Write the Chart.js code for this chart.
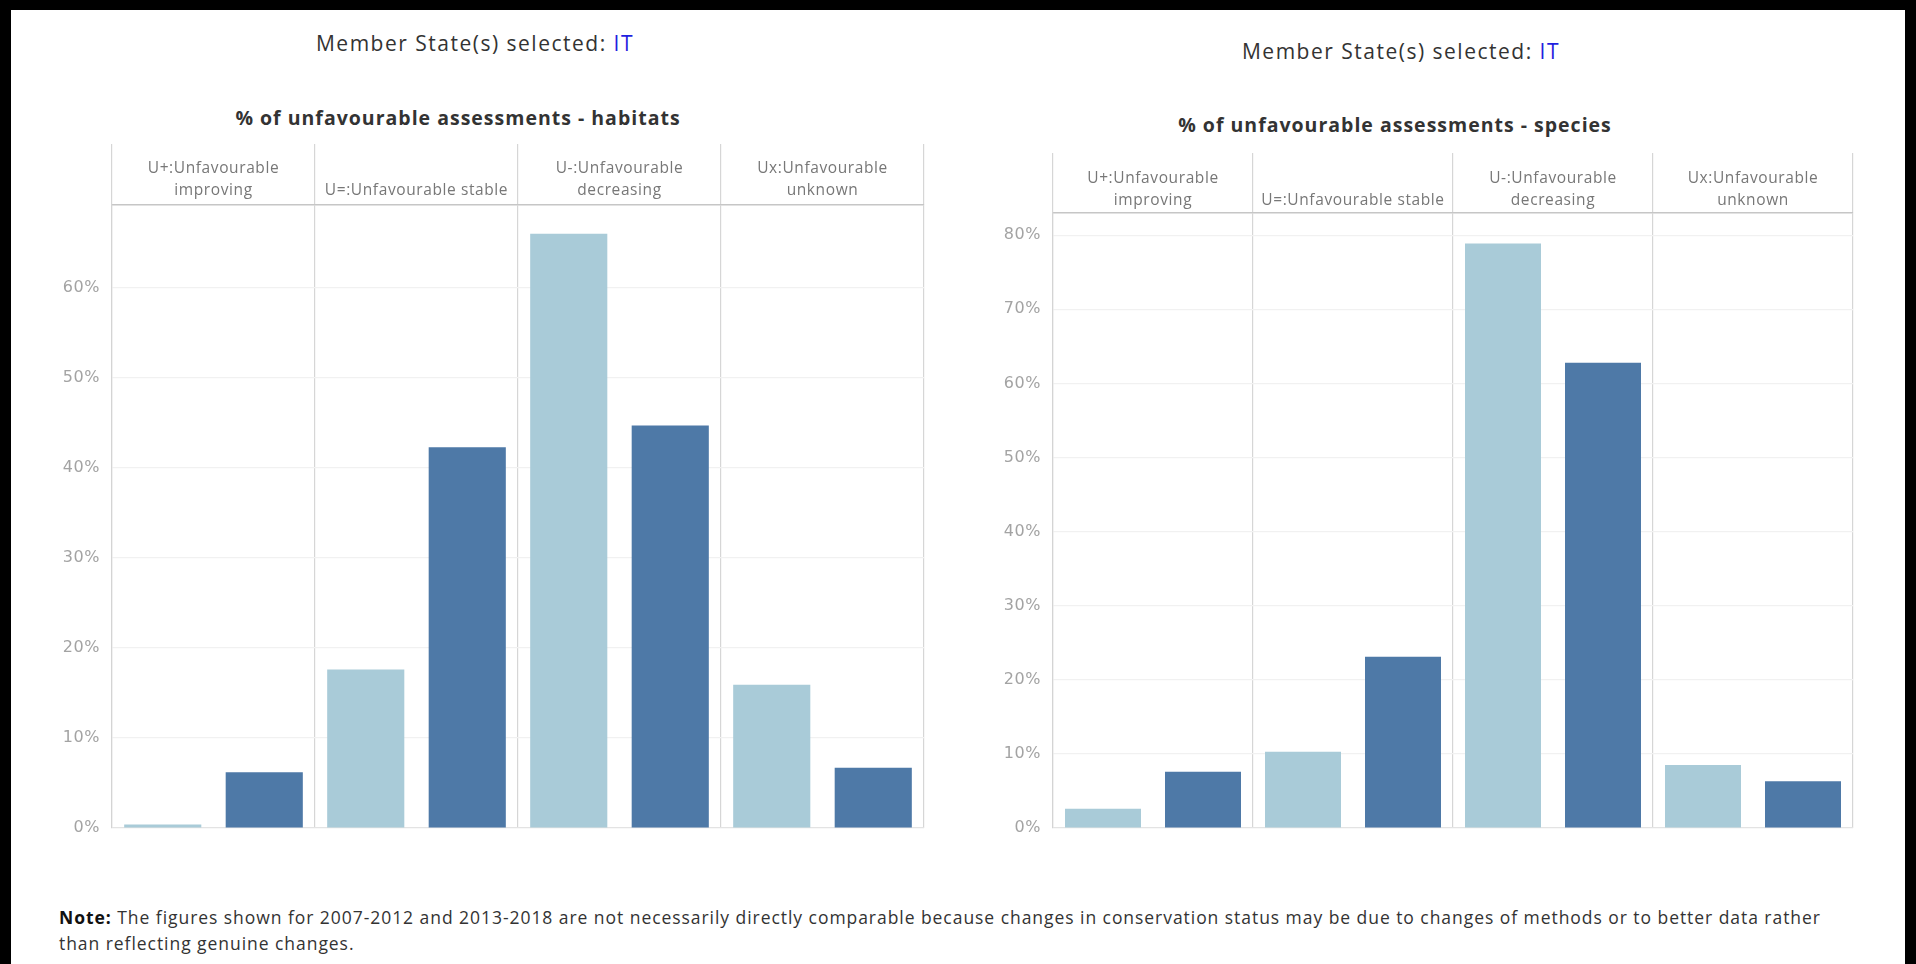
<!DOCTYPE html>
<html>
<head>
<meta charset="utf-8">
<script src="https://cdn.jsdelivr.net/npm/chart.js@4.4.1/dist/chart.umd.min.js"></script>
<style>
  html, body { margin: 0; padding: 0; }
  body { background: #000; width: 1916px; height: 964px; position: relative; overflow: hidden; font-family: "Open Sans", sans-serif; }
  #panel { position: absolute; left: 11px; top: 10px; width: 1894px; height: 954px; background: #fff; }
  .sel, .ttl { position: absolute; width: 760px; text-align: center; white-space: nowrap; }
  .sel { font-size: 21px; letter-spacing: 1.5px; color: #333; line-height: 26px; }
  .sel span { color: #1f1fe0; }
  .ttl { font-size: 19.5px; letter-spacing: 1px; font-weight: 700; color: #333; line-height: 26px; }
  canvas { position: absolute; }
  .note { position: absolute; left: 59px; top: 904px; font-size: 17.5px; letter-spacing: 0.95px; line-height: 26px; color: #333; white-space: nowrap; }
  .note b { color: #111; }
</style>
</head>
<body>
<div id="panel"></div>

<div class="sel" style="left:95px; top:30px;">Member State(s) selected: <span>IT</span></div>
<div class="sel" style="left:1021px; top:38px;">Member State(s) selected: <span>IT</span></div>
<div class="ttl" style="left:78px; top:105px;">% of unfavourable assessments - habitats</div>
<div class="ttl" style="left:1015px; top:112px;">% of unfavourable assessments - species</div>

<canvas id="habitatsChart" width="900" height="720" style="left:40px; top:130px;"></canvas>
<canvas id="speciesChart" width="900" height="710" style="left:980px; top:140px;"></canvas>

<div class="note"><b>Note:</b> The figures shown for 2007-2012 and 2013-2018 are not necessarily directly comparable because changes in conservation status may be due to changes of methods or to better data rather<br>than reflecting genuine changes.</div>

<script>
// categories shown in the header row of both charts
const categories = [
  ['U+:Unfavourable', 'improving'],
  'U=:Unfavourable stable',
  ['U-:Unfavourable', 'decreasing'],
  ['Ux:Unfavourable', 'unknown']
];
const periods = ['2007-2012', '2013-2018'];

// % of unfavourable assessments
const habitats2007 = [0.4, 17.6, 66.0, 15.9];
const habitats2013 = [6.2, 42.3, 44.7, 6.7];
const species2007 = [2.6, 10.3, 78.9, 8.5];
const species2013 = [7.6, 23.1, 62.8, 6.3];

// axis ranges and ticks
const habitatsMax = 69.2;
const speciesMax = 83.0;
const tickStep = 10;

const lightBlue = '#a9cbd8';
const darkBlue = '#4e79a7';

// the Tableau font is wide, so space the canvas text out a little
const spacing = {
  id: 'spacing',
  beforeDraw: chart => { chart.ctx.letterSpacing = '0.6px'; }
};

function makeChart(id, light, dark, yMax, opts) {
  const ctx = document.getElementById(id).getContext('2d');
  return new Chart(ctx, {
    type: 'bar',
    data: {
      labels: categories,
      datasets: [
        { label: periods[0], data: light, backgroundColor: lightBlue, borderWidth: 0,
          categoryPercentage: 1, barPercentage: 0.76 },
        { label: periods[1], data: dark, backgroundColor: darkBlue, borderWidth: 0,
          categoryPercentage: 1, barPercentage: 0.76 }
      ]
    },
    plugins: [spacing],
    options: {
      responsive: false,
      animation: false,
      layout: { padding: { left: 0, right: opts.padRight, top: 0, bottom: opts.padBottom } },
      plugins: { legend: { display: false }, tooltip: { enabled: false } },
      scales: {
        x: {
          position: 'top',
          offset: true,
          grid: { offset: true, color: '#d6d6d6', lineWidth: 1.2, drawTicks: true, tickLength: opts.header, tickColor: '#d6d6d6' },
          border: { display: true, color: '#c6c6c6', width: 1.5 },
          ticks: {
            color: '#777',
            font: { family: 'Open Sans', size: 15.5, lineHeight: '22px' },
            padding: opts.labelPad,
            maxRotation: 0,
            autoSkip: false
          },
          afterFit: s => { s.height = opts.xHeight; }
        },
        y: {
          min: 0,
          max: yMax,
          grid: {
            drawTicks: false,
            color: c => (c.tick && c.tick.value === 0) ? '#e3e3e3' : '#f1f1f1',
            lineWidth: 1.2
          },
          border: { display: true, color: '#d4d4d4', width: 1.2 },
          ticks: {
            stepSize: tickStep,
            includeBounds: false,
            padding: 12,
            color: '#a3a3a3',
            font: { family: 'DejaVu Sans', size: 16 },
            callback: v => v + '%'
          },
          afterFit: s => { s.width = opts.yWidth; }
        }
      }
    }
  });
}

makeChart('habitatsChart', habitats2007, habitats2013, habitatsMax,
  { header: 61, labelPad: -58, xHeight: 75, yWidth: 72, padRight: 16, padBottom: 22 });
makeChart('speciesChart', species2007, species2013, speciesMax,
  { header: 60, labelPad: -59, xHeight: 73, yWidth: 73, padRight: 27, padBottom: 22 });
</script>
</body>
</html>
